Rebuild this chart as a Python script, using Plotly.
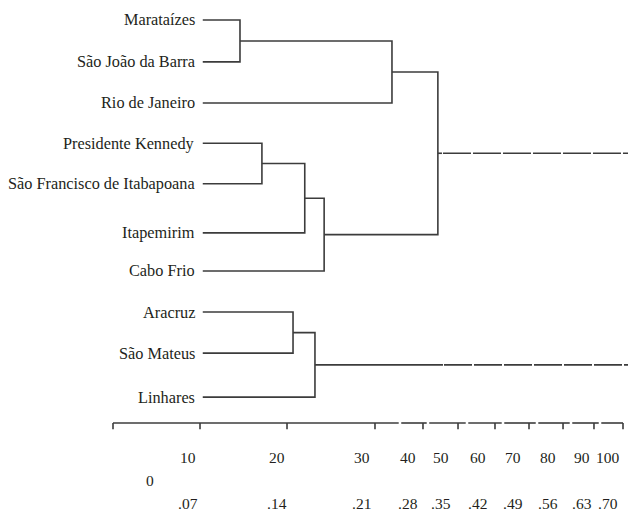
import plotly.graph_objects as go

# ---- data ----
leaves = ["Marataízes", "São João da Barra", "Rio de Janeiro", "Presidente Kennedy",
          "São Francisco de Itabapoana", "Itapemirim", "Cabo Frio",
          "Aracruz", "São Mateus", "Linhares"]
leaf_rows = [0.0, 1.0, 1.98, 2.94, 3.91, 5.08, 5.99, 6.97, 7.95, 9.0]
leaf_height = 17.6
# merges: (child a, child b, height) ; nodes 0..9 leaves, 10.. clusters
merge_a = [0, 10, 3, 12, 13, 11, 7, 16]
merge_b = [1, 2, 4, 5, 6, 14, 8, 9]
merge_h = [24.9, 54.7, 29.2, 37.6, 41.4, 63.7, 35.3, 39.6]
# final clusters running off to the right: (node, solid until, dashed until)
tail_node = [15, 17]
tail_solid_end = [64.5, 64.7]
tail_end = [101.0, 101.0]

scale_top = ["10", "20", "30", "40", "50", "60", "70", "80", "90", "100"]
scale_bottom = [".07", ".14", ".21", ".28", ".35", ".42", ".49", ".56", ".63", ".70"]
scale_zero = "0"
tick_pos = [0, 17.06, 34.12, 51.37, 60.78, 67.65, 74.90, 81.57, 88.24, 94.31, 100]
label_pos = [14.71, 32.06, 48.82, 57.75, 64.41, 71.47, 78.43, 85.20, 91.96, 97.06]
zero_pos = 7.25
axis_breaks = [56.27, 61.76, 69.41, 76.47, 83.14, 89.80, 95.49]

LINE = "#3c3c3c"
TXT = "#231f20"
FONT = "Liberation Serif"

# ---- build dendrogram ----
node_y = list(leaf_rows)
node_x = [leaf_height] * len(leaves)
xs, ys = [], []
for a, b, h in zip(merge_a, merge_b, merge_h):
    ya, yb = node_y[a], node_y[b]
    xs += [node_x[a], h, h, node_x[b], None]
    ys += [ya, ya, yb, yb, None]
    node_y.append((ya + yb) / 2)
    node_x.append(h)

fig = go.Figure()
fig.add_trace(go.Scatter(x=xs, y=ys, mode="lines",
                         line=dict(color=LINE, width=1.6), hoverinfo="skip"))

sx, sy, dx, dy = [], [], [], []
for n, se, e in zip(tail_node, tail_solid_end, tail_end):
    sx += [node_x[n], se, None]
    sy += [node_y[n], node_y[n], None]
    dx += [se + 0.2, e, None]
    dy += [node_y[n], node_y[n], None]
fig.add_trace(go.Scatter(x=sx, y=sy, mode="lines",
                         line=dict(color=LINE, width=1.6), hoverinfo="skip"))
fig.add_trace(go.Scatter(x=dx, y=dy, mode="lines",
                         line=dict(color=LINE, width=1.6, dash="28px,2px"), hoverinfo="skip"))

# ---- custom scale axis ----
AXIS_Y = 9.618
TICK_Y = 9.77
ax_x, ax_y = [], []
starts = [tick_pos[0]] + [b + 0.25 for b in axis_breaks]
ends = [b - 0.25 for b in axis_breaks] + [tick_pos[-1]]
for s, e in zip(starts, ends):
    ax_x += [s, e, None]
    ax_y += [AXIS_Y, AXIS_Y, None]
for t in tick_pos:
    ax_x += [t, t, None]
    ax_y += [AXIS_Y, TICK_Y, None]
fig.add_trace(go.Scatter(x=ax_x, y=ax_y, mode="lines",
                         line=dict(color=LINE, width=1.6), hoverinfo="skip"))

ann = []
for name, r in zip(leaves, leaf_rows):
    ann.append(dict(x=16.47, y=r, text=name, xanchor="right", yanchor="middle",
                    showarrow=False, font=dict(family=FONT, size=16.3, color=TXT)))
for lt, lb, p in zip(scale_top, scale_bottom, label_pos):
    ann.append(dict(x=p, y=10.43, text=lt, xanchor="center", yanchor="middle",
                    showarrow=False, font=dict(family=FONT, size=15.5, color=TXT)))
    ann.append(dict(x=p, y=11.53, text=lb, xanchor="center", yanchor="middle",
                    showarrow=False, font=dict(family=FONT, size=15.5, color=TXT)))
ann.append(dict(x=zero_pos, y=10.98, text=scale_zero, xanchor="center", yanchor="middle",
                showarrow=False, font=dict(family=FONT, size=15.5, color=TXT)))

fig.update_layout(
    width=628, height=512,
    margin=dict(l=0, r=0, t=0, b=0),
    paper_bgcolor="white", plot_bgcolor="white",
    showlegend=False,
    font=dict(family=FONT),
    annotations=ann,
    xaxis=dict(range=[-22.157, 100.98], visible=False, fixedrange=True),
    yaxis=dict(range=[11.742, -0.477], visible=False, fixedrange=True),
)
fig.write_html("out.html", config={"displayModeBar": False},
               post_script="document.body.style.margin='0';document.body.style.overflow='hidden';")
